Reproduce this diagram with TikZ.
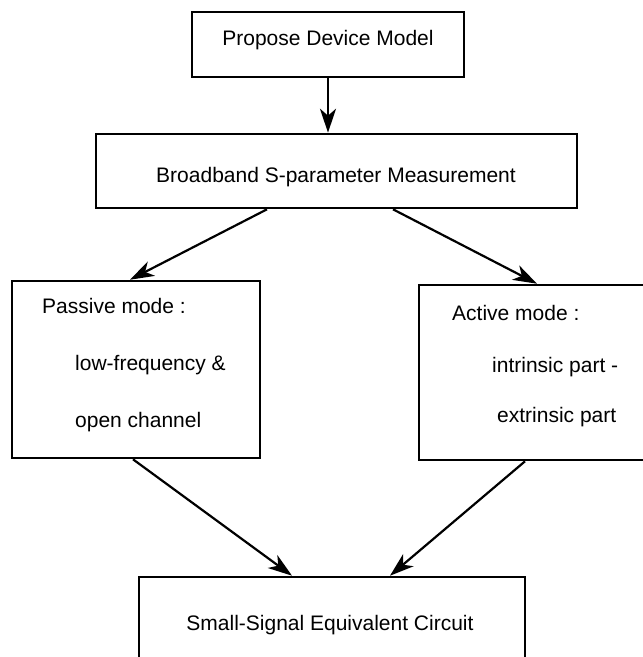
\documentclass[tikz,border=0pt]{standalone}
\usepackage{fontspec}
\setmainfont{Liberation Sans}
\usetikzlibrary{arrows.meta}

\tikzset{
    blk/.style={draw, rectangle, line width=2.6pt, inner sep=0pt},
    txt/.style={font=\fontsize{21}{25}\selectfont, inner sep=0pt},
    flow/.style={line width=2.2pt, -{Stealth[length=24pt, width=16pt, inset=7pt]}}
}

\begin{document}
\begin{tikzpicture}[x=1pt, y=-1pt]
    \useasboundingbox (0,0) rectangle (643,657);
    \clip (0,0) rectangle (643,657);
    % Boxes
    \node[blk, minimum width=272pt, minimum height=65pt] (propose) at (328,44.5) {};
    \node[blk, minimum width=481pt, minimum height=74pt] (broad) at (336.5,171) {};
    \node[blk, minimum width=248pt, minimum height=177pt] (passive) at (136,369.5) {};
    \node[blk, minimum width=270pt, minimum height=175pt] (active) at (554,372.5) {};
    \node[blk, minimum width=386pt, minimum height=126pt] (small) at (332,640) {};
    % Texts
    \node[txt, anchor=base] (proposet) at (328,45) {Propose Device Model};
    \node[txt, anchor=base] (broadt) at (336,182) {Broadband S-parameter Measurement};
    \node[txt, anchor=base west] (passive1) at (42,313) {Passive mode :};
    \node[txt, anchor=base west] (passive2) at (75,370) {low-frequency \&};
    \node[txt, anchor=base west] (passive3) at (75,427) {open channel};
    \node[txt, anchor=base west] (active1) at (452,320) {Active mode :};
    \node[txt, anchor=base west] (active2) at (492,372) {intrinsic part -};
    \node[txt, anchor=base west] (active3) at (497,422) {extrinsic part};
    \node[txt, anchor=base] (smallt) at (330,630) {Small-Signal Equivalent Circuit};
    % Arrows
    \draw[flow] (propose.south) -- (propose.south |- broad.north);
    \draw[flow] ([xshift=-69.5pt]broad.south) -- ([xshift=-6pt]passive.north);
    \draw[flow] ([xshift=56.5pt]broad.south) -- ([xshift=-17pt]active.north);
    \draw[flow] ([xshift=-3pt]passive.south) -- ([xshift=-40pt]small.north);
    \draw[flow] ([xshift=-29pt]active.south) -- ([xshift=58pt]small.north);
\end{tikzpicture}
\end{document}
